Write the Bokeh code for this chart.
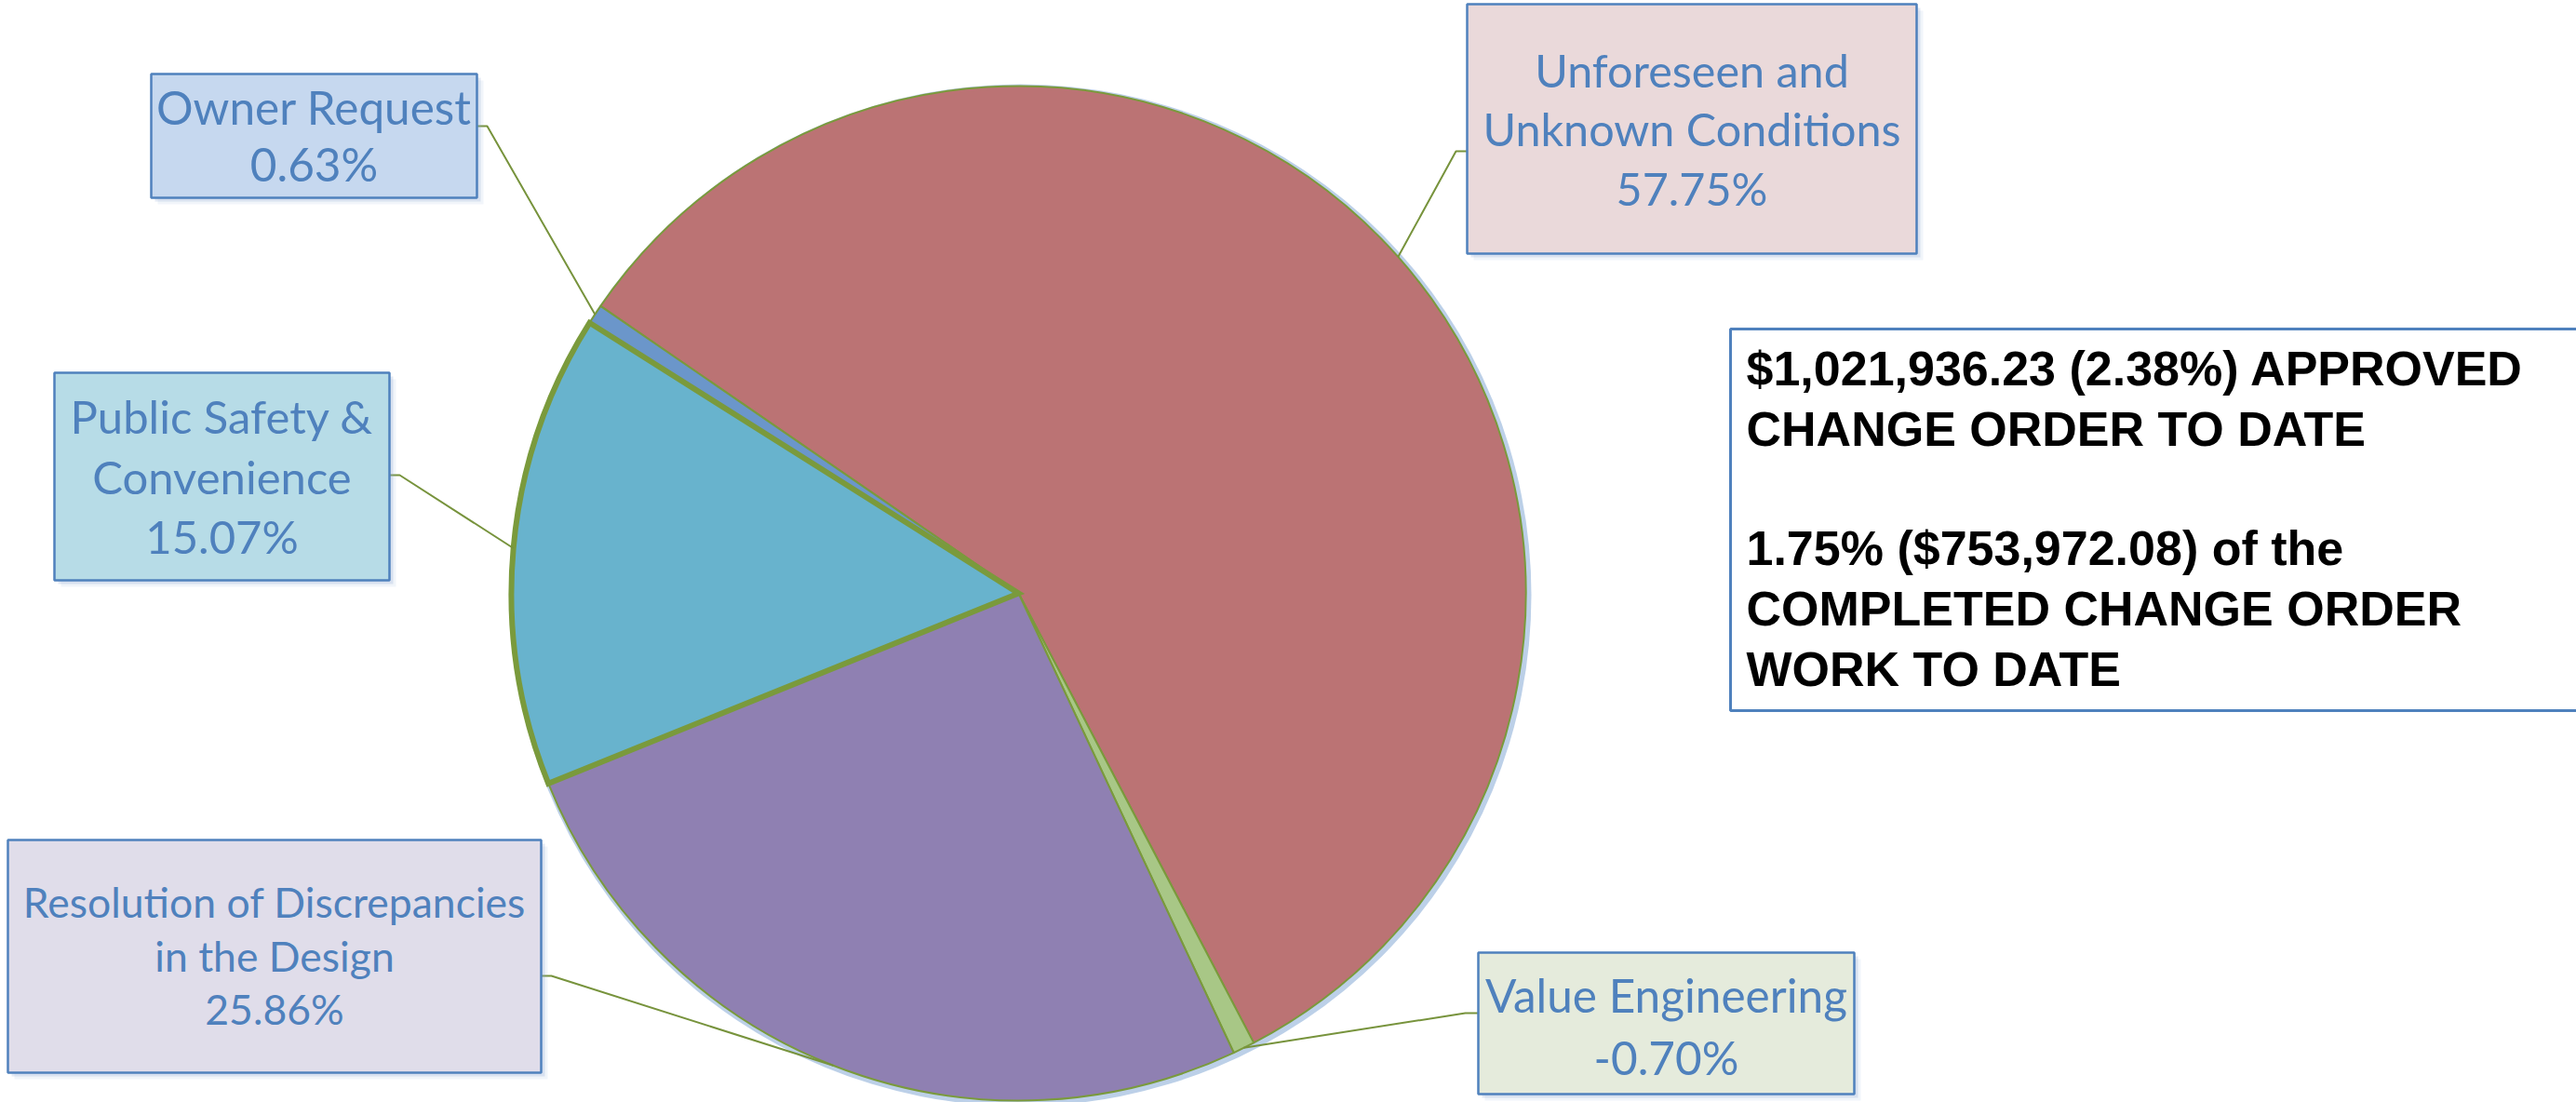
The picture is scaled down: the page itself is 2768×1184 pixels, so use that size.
import numpy as np
from bokeh.plotting import figure
from bokeh.models import Range1d
from bokeh.embed import file_html
from bokeh.resources import INLINE
from bokeh.core.properties import value

# ---------------- data ----------------
categories = ["Unforeseen and Unknown Conditions", "Value Engineering",
              "Resolution of Discrepancies in the Design",
              "Public Safety & Convenience", "Owner Request"]
shares = [57.75, -0.70, 25.86, 15.07, 0.63]
label_lines = [["Unforeseen and", "Unknown Conditions"],
               ["Value Engineering"],
               ["Resolution of Discrepancies", "in the Design"],
               ["Public Safety &", "Convenience"],
               ["Owner Request"]]
summary_lines = ["$1,021,936.23 (2.38%) APPROVED", "CHANGE ORDER TO DATE",
                 "1.75% ($753,972.08) of the", "COMPLETED CHANGE ORDER",
                 "WORK TO DATE"]

# ---------------- styles / layout ----------------
slice_colors = ["#BB7374", "#A8C786", "#8F80B2", "#68B3CD", "#6B96CA"]
box_fills = ["#EAD9DA", "#E5EBDC", "#E0DDEA", "#B7DCE7", "#C6D8EF"]
label_font_sizes = [48.5, 49.5, 44.5, 49, 49.5]
# boxes in page pixels: left, top, right, bottom
box_l = [1576, 1588, 8, 58, 162]
box_t = [4, 1023, 902, 400, 79]
box_r = [2059, 1992, 581, 418, 512]
box_b = [272, 1175, 1152, 623, 212]
text_baselines = [[95, 158, 222], [1089, 1156], [987, 1045, 1102],
                  [467, 532, 596], [135, 196]]
anchor_x = [1576, 1588, 581, 418, 512]
anchor_y = [162, 1088, 1048, 510, 135]
elbow_x = [1564, 1574, 592, 429, 523]
sum_font_size = 52
sum_baselines = [417, 482, 610, 675, 740]
BASE_SHIFT = 0.42  # renderer's alphabetic-baseline offset, in em

W, H = 2768, 1184


def Y(py):
    return H - py


p = figure(width=W, height=H, x_range=Range1d(0, W), y_range=Range1d(0, H),
           output_backend="svg", toolbar_location=None, min_border=0,
           x_axis_location=None, y_axis_location=None)
p.grid.visible = False
p.outline_line_color = None
p.background_fill_color = "white"
p.border_fill_color = "white"

# ---------------- pie ----------------
cx, cy, R = 1094, Y(637), 545
mag = np.abs(np.array(shares))
spans = mag / mag.sum() * 2 * np.pi
start0 = np.deg2rad(145.5)
starts = start0 - np.concatenate([[0], np.cumsum(spans)[:-1]])
ends = starts - spans
mids = (starts + ends) / 2

p.circle(x=[cx + 2], y=[cy - 2], radius=R + 4, fill_color="#BCD0E8",
         line_color=None)
p.wedge(x=cx, y=cy, radius=R, start_angle=list(starts), end_angle=list(ends),
        direction="clock", fill_color=slice_colors, line_color="#7A9A3C",
        line_width=2)
# highlighted (selected) slice outline
p.wedge(x=cx, y=cy, radius=R, start_angle=starts[3], end_angle=ends[3],
        direction="clock", fill_color=None, line_color="#7A9A3C",
        line_width=6, line_join="miter")

# ---------------- leader lines ----------------
xs, ys = [], []
for i in range(len(categories)):
    ex = cx + R * np.cos(mids[i])
    ey = cy + R * np.sin(mids[i])
    xs.append([anchor_x[i], elbow_x[i], ex])
    ys.append([Y(anchor_y[i]), Y(anchor_y[i]), ey])
p.multi_line(xs=xs, ys=ys, line_color="#77933C", line_width=2)

# ---------------- label boxes ----------------
for off, a in [(7, 0.12), (4, 0.25)]:
    p.quad(left=[l + off for l in box_l], right=[r + off for r in box_r],
           top=[Y(t + off) for t in box_t], bottom=[Y(b + off) for b in box_b],
           fill_color="#8FA9D2", fill_alpha=a, line_color=None)
p.quad(left=box_l, right=box_r, top=[Y(t) for t in box_t],
       bottom=[Y(b) for b in box_b], fill_color=box_fills,
       line_color="#4F81BD", line_width=2.5)

for i in range(len(categories)):
    lines = label_lines[i] + [f"{shares[i]:.2f}%"]
    c = (box_l[i] + box_r[i]) / 2
    fs = label_font_sizes[i]
    p.text(x=[c] * len(lines),
           y=[Y(b - BASE_SHIFT * fs) for b in text_baselines[i]],
           text=lines, text_align="center", text_baseline="alphabetic",
           text_font=value("Lato"), text_font_size=f"{fs}px",
           text_color="#4F81BD")

# ---------------- summary box ----------------
p.quad(left=[1859], right=[2800], top=[Y(353)], bottom=[Y(763)],
       fill_color="white", line_color="#4F81BD", line_width=3)
p.text(x=[1876] * len(summary_lines),
       y=[Y(b - BASE_SHIFT * sum_font_size) for b in sum_baselines],
       text=summary_lines, text_align="left", text_baseline="alphabetic",
       text_font=value("Liberation Sans"), text_font_style="bold",
       text_font_size=f"{sum_font_size}px", text_color="black")

open("out.html", "w").write(file_html(p, INLINE))
